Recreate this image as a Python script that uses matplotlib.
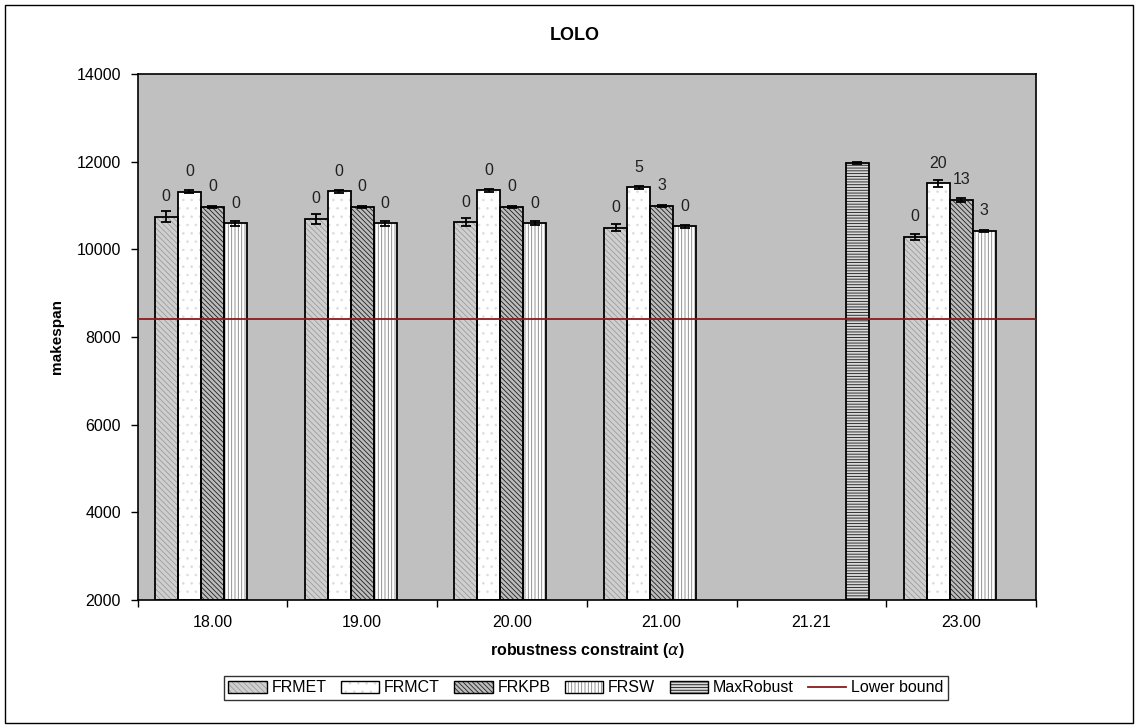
import matplotlib
matplotlib.use("Agg")
import matplotlib.pyplot as plt
import numpy as np
from matplotlib.patches import Patch, Rectangle
from matplotlib.lines import Line2D
from matplotlib.legend_handler import HandlerTuple

plt.rcParams['font.family'] = ['Liberation Sans', 'DejaVu Sans']
plt.rcParams['hatch.linewidth'] = 0.6

categories = ["18.00", "19.00", "20.00", "21.00", "21.21", "23.00"]
series = ["FRMET", "FRMCT", "FRKPB", "FRSW", "MaxRobust"]

# values (nan = no bar)
frmet = [10745, 10690, 10617, 10495, np.nan, 10282]
frmct = [11316, 11325, 11347, 11416, np.nan, 11507]
frkpb = [10966, 10966, 10974, 10997, np.nan, 11126]
frsw = [10594, 10594, 10594, 10526, np.nan, 10427]
maxrobust = [np.nan, np.nan, np.nan, np.nan, 11963, np.nan]

frmet_err = [130, 110, 90, 85, np.nan, 65]
frmct_err = [35, 35, 35, 40, np.nan, 75]
frkpb_err = [25, 25, 25, 25, np.nan, 35]
frsw_err = [60, 60, 50, 40, np.nan, 25]
maxrobust_err = [np.nan, np.nan, np.nan, np.nan, 25, np.nan]

frmet_lbl = ["0", "0", "0", "0", "", "0"]
frmct_lbl = ["0", "0", "0", "5", "", "20"]
frkpb_lbl = ["0", "0", "0", "3", "", "13"]
frsw_lbl = ["0", "0", "0", "0", "", "3"]
maxrobust_lbl = ["", "", "", "", "", ""]

lower_bound = 8410

values = [frmet, frmct, frkpb, frsw, maxrobust]
errors = [frmet_err, frmct_err, frkpb_err, frsw_err, maxrobust_err]
labels = [frmet_lbl, frmct_lbl, frkpb_lbl, frsw_lbl, maxrobust_lbl]

# style: (facecolor, hatchcolor, hatch)
styles = [
    ("#cfcfcf", "#9c9c9c", "\\\\\\\\\\\\"),
    ("#ffffff", "#dcdcdc", ".."),
    ("#bcbcbc", "#202020", "\\\\\\\\\\\\\\"),
    ("#ffffff", "#808080", "|||||"),
    ("#d8d8d8", "#181818", "------"),
]

fig = plt.figure(figsize=(11.38, 7.28), dpi=100)
ax = fig.add_axes([137.5 / 1138, 1 - 600 / 728, (1036 - 137.5) / 1138, (600 - 74) / 728])
ax.set_facecolor("#c0c0c0")

x = np.arange(len(categories))
w = 1 / 6.5
base = 2000
handles = []
for k, (vals, errs, lbls, st) in enumerate(zip(values, errors, labels, styles)):
    pos = x + (k - 2) * w
    v = np.array(vals, dtype=float)
    face, hc, h = st
    ax.bar(pos, v - base, w, bottom=base, color=face, edgecolor=hc, hatch=h, linewidth=0, zorder=2)
    ax.bar(pos, v - base, w, bottom=base, fill=False, edgecolor="black", linewidth=1.3, zorder=3)
    ax.errorbar(pos, v, yerr=np.array(errs, dtype=float), fmt="none", ecolor="black",
                elinewidth=1.3, capsize=3.5, capthick=1.3, zorder=4)
    for p, val, lb in zip(pos, v, lbls):
        if lb and not np.isnan(val):
            ax.annotate(lb, (p, val), xytext=(0, 14.5), textcoords="offset points",
                        ha="center", va="center", fontsize=11.5, color="#202020", zorder=5)
    hp = Patch(facecolor=face, edgecolor=hc, hatch=h, linewidth=0)
    op = Patch(fill=False, edgecolor="black", linewidth=1.0)
    handles.append((hp, op))

ax.axhline(lower_bound, color="#8b1a1a", linewidth=1.3, zorder=3)
lb_handle = Line2D([], [], color="#8b1a1a", linewidth=1.3)

ax.set_xlim(-0.5, len(categories) - 0.5)
ax.set_ylim(2000, 14000)
ax.set_yticks(np.arange(2000, 14001, 2000))
ax.set_xticks(np.arange(-0.5, len(categories), 1.0))
ax.set_xticklabels([])
ax.set_xticks(x, minor=True)
ax.set_xticklabels(categories, minor=True, fontsize=11.5)
ax.tick_params(axis="x", which="minor", length=0, pad=11)
ax.tick_params(axis="x", which="major", length=5, width=1, direction="out")
ax.tick_params(axis="y", length=5, width=1, direction="out", labelsize=11.5, pad=7)
for s in ax.spines.values():
    s.set_linewidth(1.2)
    s.set_color("black")
ax.set_axisbelow(False)

fig.text(0.505, 1 - 35 / 728, "LOLO", ha="center", va="center", fontsize=13, fontweight="bold")
fig.text(57 / 1138, 1 - 337 / 728, "makespan", ha="center", va="center", rotation=90,
         fontsize=11, fontweight="bold")
fig.text(587 / 1138, 1 - 650 / 728, r"robustness constraint ($\alpha$)", ha="center", va="center",
         fontsize=11.5, fontweight="bold")

leg = fig.legend(handles + [lb_handle], series + ["Lower bound"], loc="center",
                 bbox_to_anchor=(586 / 1138, 1 - 688 / 728), ncol=6, fontsize=11.5,
                 frameon=True, fancybox=False, edgecolor="black", handlelength=2.4,
                 handleheight=0.7, handletextpad=0.3, columnspacing=0.9, borderpad=0.3,
                 handler_map={tuple: HandlerTuple(ndivide=1)})
leg.get_frame().set_linewidth(1.0)

fig.patches.append(Rectangle((5 / 1138, 5 / 728), 1128 / 1138, 718 / 728, transform=fig.transFigure,
                             fill=False, edgecolor="black", linewidth=1.0))

fig.savefig("out.png", dpi=100)
